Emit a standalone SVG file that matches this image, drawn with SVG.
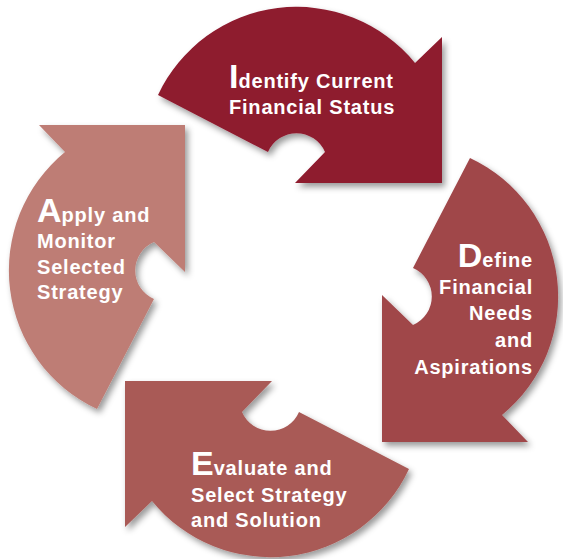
<svg xmlns="http://www.w3.org/2000/svg" width="563" height="559" viewBox="0 0 563 559">
  <style>
    .lbl { font-family: "Liberation Sans", Arial, sans-serif; font-weight: bold; font-size: 20px; fill: #ffffff; letter-spacing: 0.8px; }
    .cap { font-size: 34px; letter-spacing: 0px; }
    .end { text-anchor: end; }
  </style>
  <defs>
    <filter id="shadow" x="-20%" y="-20%" width="140%" height="140%">
      <feDropShadow dx="3" dy="4" stdDeviation="3" flood-color="#000000" flood-opacity="0.4"/>
    </filter>
    <!-- One curved-arrow segment; the other three are rotated copies -->
    <path id="segment" d="M 158 95 A 153 153 0 0 1 415 63 L 442 37 L 442 183 L 295 183 L 325 152 A 31 31 0 0 0 268 152 Z"/>
  </defs>
  <rect width="563" height="559" fill="#ffffff"/>

  <!-- connectors: the cycle is formed by the arrow segments themselves -->
  <g id="connectors"/>

  <g id="node-identify">
    <g filter="url(#shadow)">
      <use href="#segment" fill="#8e1a2e"/>
    </g>
    <text class="lbl" x="229" y="87.5"><tspan class="cap">I</tspan>dentify Current</text>
    <text class="lbl" x="229" y="114">Financial Status</text>
  </g>

  <g id="node-define">
    <g filter="url(#shadow)">
      <use href="#segment" fill="#a0464a" transform="rotate(90 282.5 282.5)"/>
    </g>
    <text class="lbl end" x="533" y="267"><tspan class="cap">D</tspan>efine</text>
    <text class="lbl end" x="533" y="293.5">Financial</text>
    <text class="lbl end" x="533" y="320">Needs</text>
    <text class="lbl end" x="533" y="347">and</text>
    <text class="lbl end" x="533" y="373.5">Aspirations</text>
  </g>

  <g id="node-evaluate">
    <g filter="url(#shadow)">
      <use href="#segment" fill="#a95a56" transform="rotate(180 283.5 282)"/>
    </g>
    <text class="lbl" x="191" y="475"><tspan class="cap">E</tspan>valuate and</text>
    <text class="lbl" x="191" y="501.5">Select Strategy</text>
    <text class="lbl" x="191" y="527">and Solution</text>
  </g>

  <g id="node-apply">
    <g filter="url(#shadow)">
      <use href="#segment" fill="#be7d75" transform="rotate(270 284.5 282.5)"/>
    </g>
    <text class="lbl" x="37" y="221.5"><tspan class="cap">A</tspan>pply and</text>
    <text class="lbl" x="37" y="247.5">Monitor</text>
    <text class="lbl" x="37" y="273.5">Selected</text>
    <text class="lbl" x="37" y="299">Strategy</text>
  </g>
</svg>
